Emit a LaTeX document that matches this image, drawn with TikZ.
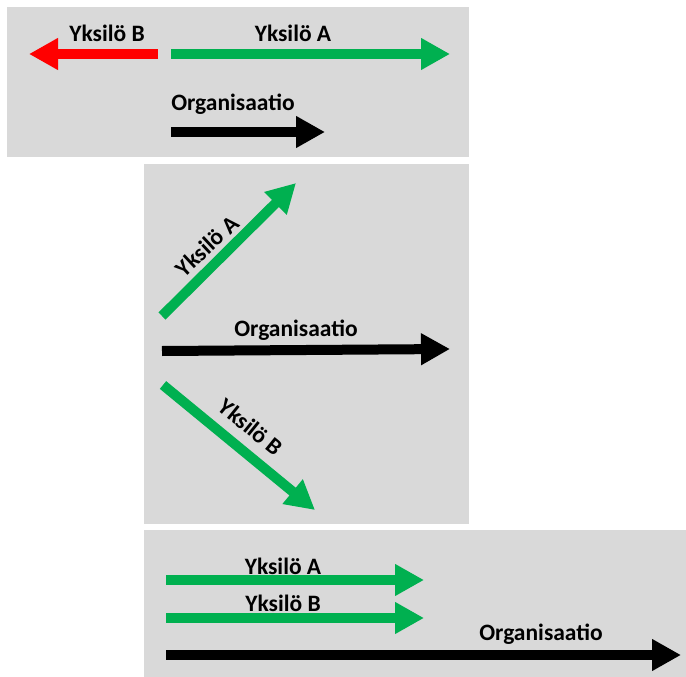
\documentclass[tikz,border=0pt]{standalone}
\usepackage{fontspec}
\setmainfont{Carlito}
\usetikzlibrary{arrows.meta}
\definecolor{panelgray}{HTML}{D9D9D9}
\definecolor{arrowgreen}{HTML}{00B050}
\definecolor{arrowred}{HTML}{FF0000}
\begin{document}
\begin{tikzpicture}[x=1pt,y=-1pt,
  panel/.style={fill=panelgray,draw=none},
  fatarrow/.style={line width=10pt,-{Triangle[length=29pt,width=30pt]}},
  lbl/.style={font=\bfseries\fontsize{23.5}{26}\selectfont,inner sep=0pt}]
  \useasboundingbox (0,0) rectangle (686,677);
  \fill[white] (0,0) rectangle (686,677);
  % panels
  \fill[panel] (7,7) rectangle (469,157);
  \fill[panel] (144,164) rectangle (469,524);
  \fill[panel] (144,530) rectangle (686,677);

  % top panel: opposite directions
  \coordinate (p1bs) at (158,54);  \coordinate (p1be) at (29,54);
  \coordinate (p1as) at (171,54);  \coordinate (p1ae) at (450,54);
  \coordinate (p1os) at (171,132); \coordinate (p1oe) at (325,132);
  \draw[fatarrow,arrowred] (p1bs) -- (p1be);
  \draw[fatarrow,arrowgreen] (p1as) -- (p1ae);
  \draw[fatarrow,black] (p1os) -- (p1oe);
  \node[lbl] (l1b) at (107,33) {Yksilö B};
  \node[lbl] (l1a) at (293,33) {Yksilö A};
  \node[lbl] (l1o) at (233,104) {Organisaatio};

  % middle panel: diverging directions
  \coordinate (p2as) at (162,316); \coordinate (p2ae) at (296,183);
  \coordinate (p2os) at (162,351); \coordinate (p2oe) at (450,349);
  \coordinate (p2bs) at (163,385); \coordinate (p2be) at (315,510);
  \draw[fatarrow,arrowgreen] (p2as) -- (p2ae);
  \draw[fatarrow,black] (p2os) -- (p2oe);
  \draw[fatarrow,arrowgreen] (p2bs) -- (p2be);
  \node[lbl,rotate=43] (l2a) at (207,246) {Yksilö A};
  \node[lbl] (l2o) at (296,330) {Organisaatio};
  \node[lbl,rotate=-39] (l2b) at (251,427) {Yksilö B};

  % bottom panel: aligned directions
  \coordinate (p3as) at (166,580); \coordinate (p3ae) at (424,580);
  \coordinate (p3bs) at (166,618); \coordinate (p3be) at (424,618);
  \coordinate (p3os) at (166,655); \coordinate (p3oe) at (681,655);
  \draw[fatarrow,arrowgreen] (p3as) -- (p3ae);
  \draw[fatarrow,arrowgreen] (p3bs) -- (p3be);
  \draw[fatarrow,black] (p3os) -- (p3oe);
  \node[lbl] (l3a) at (283,566) {Yksilö A};
  \node[lbl] (l3b) at (283,603) {Yksilö B};
  \node[lbl] (l3o) at (541,634) {Organisaatio};
\end{tikzpicture}
\end{document}
